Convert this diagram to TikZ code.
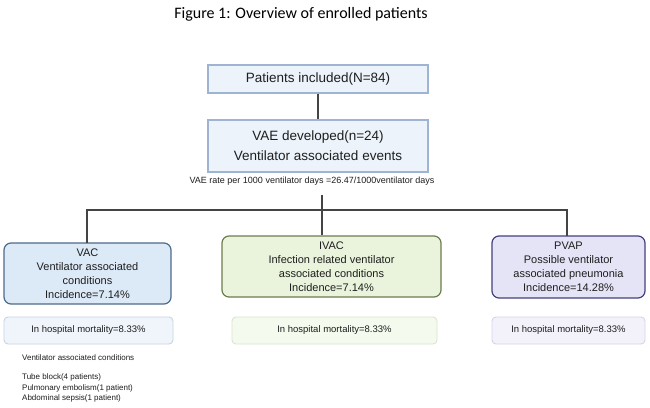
\documentclass[tikz,border=0pt]{standalone}
\usepackage{fontspec}
\setmainfont{Liberation Sans}
\newfontfamily\titlefont{Carlito}
\definecolor{topfill}{HTML}{EDF3FB}
\definecolor{topdraw}{HTML}{9FB3D3}
\definecolor{vacfill}{HTML}{DCE9F7}
\definecolor{vacdraw}{HTML}{4E6B8C}
\definecolor{ivacfill}{HTML}{EAF4DC}
\definecolor{ivacdraw}{HTML}{6B7D4C}
\definecolor{pvapfill}{HTML}{E5E4F7}
\definecolor{pvapdraw}{HTML}{44407C}
\definecolor{mvacfill}{HTML}{F0F5FC}
\definecolor{mvacdraw}{HTML}{C8D4E4}
\definecolor{mivacfill}{HTML}{F5FAEE}
\definecolor{mivacdraw}{HTML}{D9E6CB}
\definecolor{mpvapfill}{HTML}{F3F2FB}
\definecolor{mpvapdraw}{HTML}{D5D3EA}
\definecolor{linecol}{HTML}{444444}
\definecolor{txt}{HTML}{1E1E1E}
\begin{document}
\begin{tikzpicture}[x=1pt,y=-1pt,
  every node/.style={text=txt},
  topbox/.style={draw=topdraw,fill=topfill,line width=1.3pt,inner sep=0pt,align=center,font=\fontsize{13.5}{20}\selectfont},
  catbox/.style={rounded corners=7pt,line width=1.2pt,inner sep=0pt,align=center,font=\fontsize{11}{14}\selectfont},
  mortbox/.style={rounded corners=4pt,line width=0.9pt,inner sep=0pt,align=center,font=\fontsize{9.5}{11}\selectfont},
  conn/.style={draw=linecol,line width=1.8pt},
  note/.style={inner sep=0pt,anchor=west,font=\fontsize{8}{9}\selectfont}]
\useasboundingbox (0,0) rectangle (650,407);
\fill[white] (0,0) rectangle (650,407);
\node[font=\titlefont\fontsize{16}{18}\selectfont,text=black] (title) at (301,14) {Figure 1: Overview of enrolled patients};
\node[topbox,minimum width=220pt,minimum height=28pt] (inc) at (318,79) {Patients included(N=84)};
\node[topbox,minimum width=220pt,minimum height=52pt] (vae) at (318,146) {VAE developed(n=24)\\Ventilator associated events};
\node[inner sep=0pt,font=\fontsize{9}{10}\selectfont] (rate) at (312,181) {VAE rate per 1000 ventilator days =26.47/1000ventilator days};
\node[catbox,draw=vacdraw,fill=vacfill,minimum width=167pt,minimum height=61pt] (vac) at (87.5,273.5) {VAC\\Ventilator associated\\conditions\\Incidence=7.14\%};
\node[catbox,draw=ivacdraw,fill=ivacfill,minimum width=219pt,minimum height=61pt] (ivac) at (331.5,266.5) {IVAC\\Infection related ventilator\\associated conditions\\Incidence=7.14\%};
\node[catbox,draw=pvapdraw,fill=pvapfill,minimum width=153pt,minimum height=62pt] (pvap) at (568.5,267) {PVAP\\Possible ventilator\\associated pneumonia\\Incidence=14.28\%};
\node[mortbox,draw=mvacdraw,fill=mvacfill,minimum width=169pt,minimum height=27pt] (mvac) at (88.5,330.5) {In hospital mortality=8.33\%};
\node[mortbox,draw=mivacdraw,fill=mivacfill,minimum width=205pt,minimum height=27pt] (mivac) at (334.5,330.5) {In hospital mortality=8.33\%};
\node[mortbox,draw=mpvapdraw,fill=mpvapfill,minimum width=153pt,minimum height=27pt] (mpvap) at (568.5,330.5) {In hospital mortality=8.33\%};
\node[note] (n1) at (22,358) {Ventilator associated conditions};
\node[note] (n2) at (22,377) {Tube block(4 patients)};
\node[note] (n3) at (22,388) {Pulmonary embolism(1 patient)};
\node[note] (n4) at (22,398) {Abdominal sepsis(1 patient)};
\draw[conn] (inc.south) -- (vae.north);
\coordinate (top) at (322,195);
\coordinate (hl) at (87,210);
\coordinate (hr) at (567,210);
\draw[conn] (top) -- (top |- ivac.north);
\draw[conn,line cap=rect] (hl |- vac.north) -- (hl) -- (hr) -- (hr |- pvap.north);
\end{tikzpicture}
\end{document}
